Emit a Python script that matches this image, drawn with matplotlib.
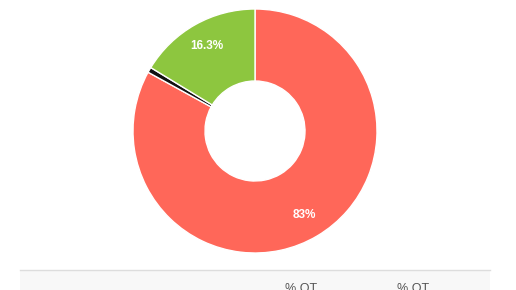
import matplotlib
matplotlib.use('Agg')
import matplotlib.pyplot as plt
from matplotlib.patches import Rectangle

# data
shares = [83.0, 0.7, 16.3]
colors = ['#ff6759', '#111111', '#8dc63f']
header_labels = ['% ОТ', '% ОТ']

plt.rcParams['font.family'] = ['Liberation Sans', 'DejaVu Sans']

fig = plt.figure(figsize=(5.16, 2.90), dpi=100)
ax = fig.add_axes([0, 0, 1, 1])
ax.set_xlim(0, 516)
ax.set_ylim(0, 290)
ax.set_aspect('equal')
ax.axis('off')


def pct_label(p):
    if p < 1:
        return ''
    return '{:g}%'.format(round(p, 1))


wedges, texts, autotexts = ax.pie(
    shares, colors=colors, center=(255, 159), radius=122,
    startangle=90, counterclock=False, autopct=pct_label,
    pctdistance=0.8, frame=True,
    wedgeprops=dict(width=72, edgecolor='white', linewidth=1),
    textprops=dict(color='white', fontsize=8.5, fontweight='bold'))
ax.set_xlim(0, 516)
ax.set_ylim(0, 290)
ax.axis('off')

# table header strip at the bottom
ax.add_patch(Rectangle((20, 0), 470, 20, facecolor='#f8f8f8', edgecolor='none'))
ax.plot([20, 490], [20, 20], color='#dddddd', linewidth=1)
for x, lab in zip([285, 397], header_labels):
    ax.text(x, 7, lab, ha='left', va='top', fontsize=9, color='#555555')

plt.savefig('out.png', dpi=100)
